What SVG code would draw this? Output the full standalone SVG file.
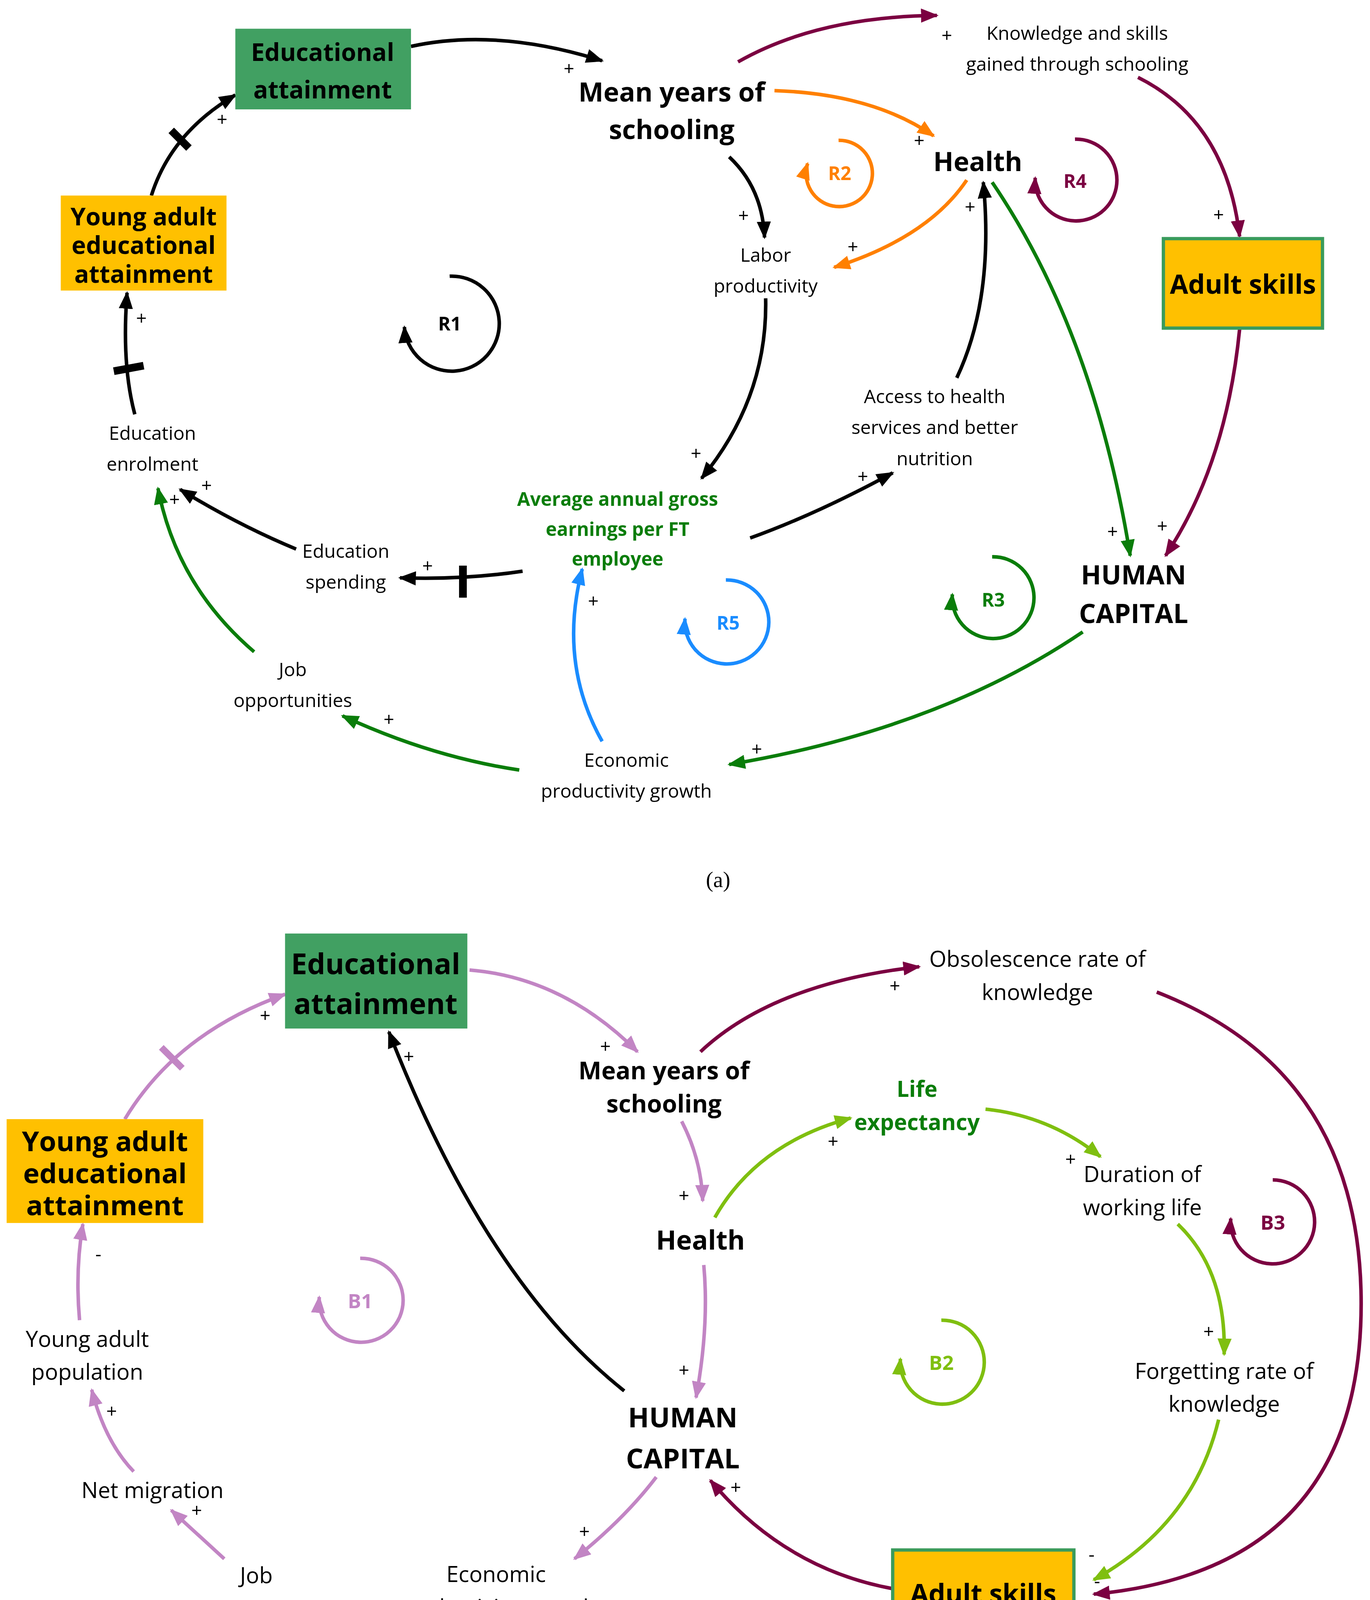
<svg xmlns="http://www.w3.org/2000/svg" width="3507" height="4403" viewBox="0 0 3507 4403">
<style>
text{font-family:"Open Sans","Liberation Sans",sans-serif;text-anchor:middle;fill:#000}
.r{font-size:17px}
.rb{font-size:20px}
.b{font-size:22px;font-weight:bold}
.bb{font-size:24px;font-weight:bold}
.s{font-size:17px}
.lp{font-size:17px;font-weight:bold}
.c{fill:none;stroke-width:3.2}
.k{stroke:#000}.o{stroke:#ff8000}.m{stroke:#7b0041}.g{stroke:#0a7d0a}.bl{stroke:#1a8cff}.l{stroke:#c285c4}.y{stroke:#7fbf10}
</style>
<defs>
<marker id="ak" viewBox="0 0 10 8" refX="9" refY="4" markerWidth="5" markerHeight="4" orient="auto"><path d="M0,0L10,4L0,8z" fill="#000"/></marker>
<marker id="ao" viewBox="0 0 10 8" refX="9" refY="4" markerWidth="5" markerHeight="4" orient="auto"><path d="M0,0L10,4L0,8z" fill="#ff8000"/></marker>
<marker id="am" viewBox="0 0 10 8" refX="9" refY="4" markerWidth="5" markerHeight="4" orient="auto"><path d="M0,0L10,4L0,8z" fill="#7b0041"/></marker>
<marker id="ag" viewBox="0 0 10 8" refX="9" refY="4" markerWidth="5" markerHeight="4" orient="auto"><path d="M0,0L10,4L0,8z" fill="#0a7d0a"/></marker>
<marker id="ab" viewBox="0 0 10 8" refX="9" refY="4" markerWidth="5" markerHeight="4" orient="auto"><path d="M0,0L10,4L0,8z" fill="#1a8cff"/></marker>
<marker id="al" viewBox="0 0 10 8" refX="9" refY="4" markerWidth="5" markerHeight="4" orient="auto"><path d="M0,0L10,4L0,8z" fill="#c285c4"/></marker>
<marker id="ay" viewBox="0 0 10 8" refX="9" refY="4" markerWidth="5" markerHeight="4" orient="auto"><path d="M0,0L10,4L0,8z" fill="#7fbf10"/></marker>
</defs>
<rect width="3507" height="4403" fill="#fff"/>
<g transform="scale(2.8282)">
<g id="connectors">
<path class="c k" d="M372,42 Q450,25 545,55" marker-end="url(#ak)"/>
<path class="c k" d="M137,177 Q155,120 213,86" marker-end="url(#ak)"/>
<path d="M155,118 L171,134" stroke="#000" stroke-width="7"/>
<path class="c k" d="M122,375 Q110,330 115,265" marker-end="url(#ak)"/>
<path d="M103,336 L130,331" stroke="#000" stroke-width="7"/>
<path class="c k" d="M268,497 Q215,475 163,443" marker-end="url(#ak)"/>
<path class="c k" d="M473,517 Q420,525 362,523" marker-end="url(#ak)"/>
<path d="M419,512 L419,541" stroke="#000" stroke-width="7"/>
<path class="c g" d="M230,590 Q160,530 143,442" marker-end="url(#ag)"/>
<path class="c g" d="M470,697 Q390,685 310,648" marker-end="url(#ag)"/>
<path class="c bl" d="M545,671 Q505,600 527,515" marker-end="url(#ab)"/>
<path class="c g" d="M980,572 Q850,660 660,692" marker-end="url(#ag)"/>
<path class="c k" d="M660,142 Q690,170 692,215" marker-end="url(#ak)"/>
<path class="c k" d="M693,270 Q695,360 635,433" marker-end="url(#ak)"/>
<path class="c k" d="M679,487 Q740,465 808,428" marker-end="url(#ak)"/>
<path class="c k" d="M866,342 Q900,270 890,165" marker-end="url(#ak)"/>
<path class="c o" d="M701,82 Q790,85 845,123" marker-end="url(#ao)"/>
<path class="c o" d="M875,163 Q840,215 755,242" marker-end="url(#ao)"/>
<path class="c m" d="M668,56 Q740,15 848,14" marker-end="url(#am)"/>
<path class="c m" d="M1030,70 Q1110,110 1122,214" marker-end="url(#am)"/>
<path class="c m" d="M1122,298 Q1110,420 1055,503" marker-end="url(#am)"/>
<path class="c g" d="M898,165 Q990,300 1023,503" marker-end="url(#ag)"/>
<path class="c k" d="M407,250 A43,43 0 1 1 366,296" marker-end="url(#ak)" stroke-width="2.2"/>
<path class="c o" d="M759,127 A30,30 0 1 1 731,148" marker-end="url(#ao)" stroke-width="2.2"/>
<path class="c m" d="M973,126 A37,37 0 1 1 937,161" marker-end="url(#am)" stroke-width="2.2"/>
<path class="c bl" d="M657,525 A38,38 0 1 1 620,560" marker-end="url(#ab)" stroke-width="2.2"/>
<path class="c g" d="M898,504 A37,37 0 1 1 862,538" marker-end="url(#ag)" stroke-width="2.2"/>
<path class="c l" d="M425,878 Q510,885 577,952" marker-end="url(#al)"/>
<path class="c l" d="M113,1013 Q160,935 258,900" marker-end="url(#al)"/>
<path d="M146,948 L165,967" stroke="#c285c4" stroke-width="6"/>
<path class="c l" d="M72,1195 Q68,1150 75,1108" marker-end="url(#al)"/>
<path class="c l" d="M121,1332 Q95,1305 83,1258" marker-end="url(#al)"/>
<path class="c l" d="M203,1411 Q180,1390 155,1367" marker-end="url(#al)"/>
<path class="c l" d="M381,1467 Q345,1475 303,1471" marker-end="url(#al)"/>
<path class="c l" d="M594,1337 Q565,1375 520,1411" marker-end="url(#al)"/>
<path class="c k" d="M565,1259 Q440,1160 352,934" marker-end="url(#ak)" stroke-width="4"/>
<path class="c l" d="M617,1015 Q635,1050 636,1087" marker-end="url(#al)"/>
<path class="c l" d="M637,1145 Q642,1200 630,1265" marker-end="url(#al)"/>
<path class="c y" d="M647,1102 Q685,1035 770,1012" marker-end="url(#ay)"/>
<path class="c y" d="M892,1004 Q950,1010 996,1047" marker-end="url(#ay)"/>
<path class="c y" d="M1066,1108 Q1110,1150 1108,1226" marker-end="url(#ay)"/>
<path class="c y" d="M1103,1285 Q1080,1380 990,1430" marker-end="url(#ay)"/>
<path class="c m" d="M634,952 Q700,890 832,875" marker-end="url(#am)"/>
<path class="c m" d="M1047,898 Q1232,970 1232,1180 Q1232,1420 990,1443" marker-end="url(#am)"/>
<path class="c m" d="M808,1438 Q710,1420 643,1340" marker-end="url(#am)"/>
<path class="c m" d="M1152,1068 A38,38 0 1 1 1114,1103" marker-end="url(#am)" stroke-width="2.2"/>
<path class="c l" d="M326,1139 A38,38 0 1 1 289,1174" marker-end="url(#al)" stroke-width="2.2"/>
<path class="c y" d="M852,1195 A38,38 0 1 1 815,1230" marker-end="url(#ay)" stroke-width="2.2"/>
</g>
<g id="signs">
<text class="s" x="515" y="68">+</text><text class="s" x="201" y="114">+</text><text class="s" x="128" y="294">+</text>
<text class="s" x="187" y="445">+</text><text class="s" x="387" y="518">+</text><text class="s" x="158" y="458">+</text>
<text class="s" x="352" y="657">+</text><text class="s" x="537" y="550">+</text><text class="s" x="685" y="684">+</text>
<text class="s" x="673" y="201">+</text><text class="s" x="630" y="416">+</text><text class="s" x="781" y="437">+</text>
<text class="s" x="878" y="193">+</text><text class="s" x="832" y="133">+</text><text class="s" x="772" y="229">+</text>
<text class="s" x="857" y="38">+</text><text class="s" x="1103" y="200">+</text><text class="s" x="1052" y="482">+</text><text class="s" x="1007" y="487">+</text>
<text class="s" x="548" y="953">+</text><text class="s" x="240" y="925">+</text><text class="s" x="89" y="1141">-</text>
<text class="s" x="101" y="1283">+</text><text class="s" x="178" y="1373">+</text><text class="s" x="341" y="1466">+</text>
<text class="s" x="529" y="1392">+</text><text class="s" x="370" y="962">+</text><text class="s" x="619" y="1088">+</text>
<text class="s" x="619" y="1246">+</text><text class="s" x="754" y="1039">+</text><text class="s" x="969" y="1055">+</text>
<text class="s" x="1094" y="1211">+</text><text class="s" x="988" y="1413">-</text><text class="s" x="993" y="1437">-</text>
<text class="s" x="810" y="898">+</text><text class="s" x="666" y="1352">+</text>
</g>
<g id="edu_a"><rect x="213" y="26" width="159" height="73" fill="#41a062"/><text class="b" x="292" y="55">Educational</text><text class="b" x="292" y="89">attainment</text></g>
<g id="young_a"><rect x="55" y="177" width="150" height="86" fill="#ffc000"/><text class="b" x="130" y="204">Young adult</text><text class="b" x="130" y="230">educational</text><text class="b" x="130" y="256">attainment</text></g>
<g id="mean_a"><text class="bb" x="608" y="92">Mean years of</text><text class="bb" x="608" y="126">schooling</text></g>
<g id="know_a"><text class="r" x="975" y="36">Knowledge and skills</text><text class="r" x="975" y="64">gained through schooling</text></g>
<g id="health_a"><text class="bb" x="885" y="155">Health</text></g>
<g id="labor_a"><text class="r" x="693" y="237">Labor</text><text class="r" x="693" y="265">productivity</text></g>
<g id="adult_a"><rect x="1053" y="216" width="144" height="81" fill="#ffc000" stroke="#3a9b5c" stroke-width="3"/><text class="bb" x="1125" y="266">Adult skills</text></g>
<g id="access_a"><text class="r" x="846" y="365">Access to health</text><text class="r" x="846" y="393">services and better</text><text class="r" x="846" y="421">nutrition</text></g>
<g id="enrol_a"><text class="r" x="138" y="398">Education</text><text class="r" x="138" y="426">enrolment</text></g>
<g id="earn_a"><text class="r" x="559" y="458" style="font-weight:bold;fill:#0a7d0a">Average annual gross</text><text class="r" x="559" y="485" style="font-weight:bold;fill:#0a7d0a">earnings per FT</text><text class="r" x="559" y="512" style="font-weight:bold;fill:#0a7d0a">employee</text></g>
<g id="spend_a"><text class="r" x="313" y="505">Education</text><text class="r" x="313" y="533">spending</text></g>
<g id="hc_a"><text class="bb" x="1026" y="529">HUMAN</text><text class="bb" x="1026" y="564">CAPITAL</text></g>
<g id="job_a"><text class="r" x="265" y="612">Job</text><text class="r" x="265" y="640">opportunities</text></g>
<g id="econ_a"><text class="r" x="567" y="694">Economic</text><text class="r" x="567" y="722">productivity growth</text></g>
<g id="loops_a">
<text class="lp" x="407" y="299">R1</text>
<text class="lp" x="760" y="163" style="fill:#ff8000">R2</text>
<text class="lp" x="973" y="170" style="fill:#7b0041">R4</text>
<text class="lp" x="659" y="570" style="fill:#1a8cff">R5</text>
<text class="lp" x="899" y="549" style="fill:#0a7d0a">R3</text>
</g>
<text x="650" y="803" style="font-family:'Liberation Serif',serif;font-size:20px">(a)</text>
<g id="edu_b"><rect x="258" y="845" width="165" height="86" fill="#41a062"/><text class="bb" x="340" y="882" style="font-size:26px">Educational</text><text class="bb" x="340" y="918" style="font-size:26px">attainment</text></g>
<g id="young_b"><rect x="6" y="1013" width="178" height="94" fill="#ffc000"/><text class="bb" x="95" y="1042" style="font-size:25px">Young adult</text><text class="bb" x="95" y="1071" style="font-size:25px">educational</text><text class="bb" x="95" y="1100" style="font-size:25px">attainment</text></g>
<g id="mean_b"><text class="b" x="601" y="977">Mean years of</text><text class="b" x="601" y="1007">schooling</text></g>
<g id="obs_b"><text class="rb" x="939" y="875">Obsolescence rate of</text><text class="rb" x="939" y="905">knowledge</text></g>
<g id="life_b"><text class="b" x="830" y="993" style="font-size:20px;fill:#0a7d0a">Life</text><text class="b" x="830" y="1023" style="font-size:20px;fill:#0a7d0a">expectancy</text></g>
<g id="dur_b"><text class="rb" x="1034" y="1070">Duration of</text><text class="rb" x="1034" y="1100">working life</text></g>
<g id="health_b"><text class="bb" x="634" y="1131">Health</text></g>
<g id="ypop_b"><text class="rb" x="79" y="1219">Young adult</text><text class="rb" x="79" y="1249">population</text></g>
<g id="forget_b"><text class="rb" x="1108" y="1248">Forgetting rate of</text><text class="rb" x="1108" y="1278">knowledge</text></g>
<g id="hc_b"><text class="bb" x="618" y="1292" style="font-size:25px">HUMAN</text><text class="bb" x="618" y="1329" style="font-size:25px">CAPITAL</text></g>
<g id="net_b"><text class="rb" x="138" y="1356">Net migration</text></g>
<g id="econ_b"><text class="rb" x="449" y="1432">Economic</text><text class="rb" x="449" y="1462">productivity growth</text></g>
<g id="job_b"><text class="rb" x="232" y="1433">Job</text><text class="rb" x="232" y="1463">opportunities</text></g>
<g id="adult_b"><rect x="808" y="1403" width="164" height="78" fill="#ffc000" stroke="#3a9b5c" stroke-width="3"/><text class="bb" x="890" y="1451">Adult skills</text></g>
<g id="loops_b">
<text class="lp" x="326" y="1184" style="font-size:18px;fill:#c285c4">B1</text>
<text class="lp" x="852" y="1240" style="font-size:18px;fill:#7fbf10">B2</text>
<text class="lp" x="1152" y="1113" style="font-size:18px;fill:#7b0041">B3</text>
</g>
<text x="650" y="1556" style="font-family:'Liberation Serif',serif;font-size:20px">(b)</text>
</g>
</svg>
